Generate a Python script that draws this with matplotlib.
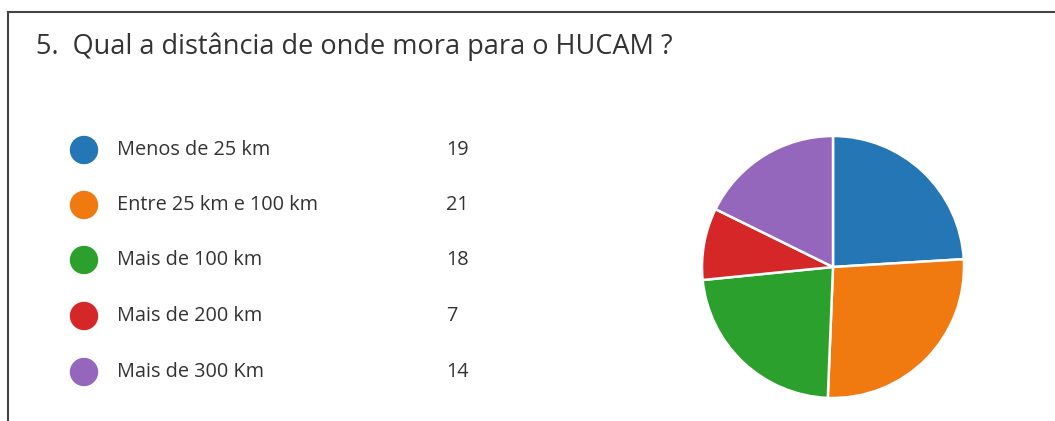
import matplotlib.pyplot as plt
from matplotlib.patches import Circle

title = "5.  Qual a distância de onde mora para o HUCAM ?"
categories = ["Menos de 25 km", "Entre 25 km e 100 km", "Mais de 100 km",
              "Mais de 200 km", "Mais de 300 Km"]
counts = [19, 21, 18, 7, 14]
colors = ["#2476b5", "#f07a10", "#2ca02c", "#d62728", "#9467bd"]

W, H = 1055, 421
fig = plt.figure(figsize=(W / 100, H / 100), dpi=100)
plt.rcParams['font.family'] = ['Open Sans', 'DejaVu Sans']

# background axes in pixel coords
bg = fig.add_axes([0, 0, 1, 1])
bg.set_xlim(0, W)
bg.set_ylim(H, 0)
bg.axis('off')

# frame lines (top and left)
bg.plot([8, W], [12, 12], color='#444444', lw=1.5)
bg.plot([8, 8], [12, H], color='#444444', lw=1.5)

bg.text(36, 47, title, fontsize=19.5, color='#333333', va='center', ha='left')

ys = [150, 205, 260, 316, 372]
for y, lab, n, c in zip(ys, categories, counts, colors):
    bg.add_patch(Circle((84, y), 13.5, color=c))
    bg.text(117, y, lab, fontsize=14.3, color='#333333', va='center', ha='left')
    bg.text(446, y, str(n), fontsize=14.3, color='#333333', va='center', ha='left')

# pie
cx, cy, r = 833, 267, 131
ax = fig.add_axes([(cx - r) / W, (H - cy - r) / H, 2 * r / W, 2 * r / H])
ax.pie(counts, colors=colors, startangle=90, counterclock=False, radius=1,
       wedgeprops=dict(edgecolor='white', linewidth=1.8))
ax.set_xlim(-1, 1)
ax.set_ylim(-1, 1)
ax.set_aspect('equal')

fig.savefig('out.png', dpi=100)
